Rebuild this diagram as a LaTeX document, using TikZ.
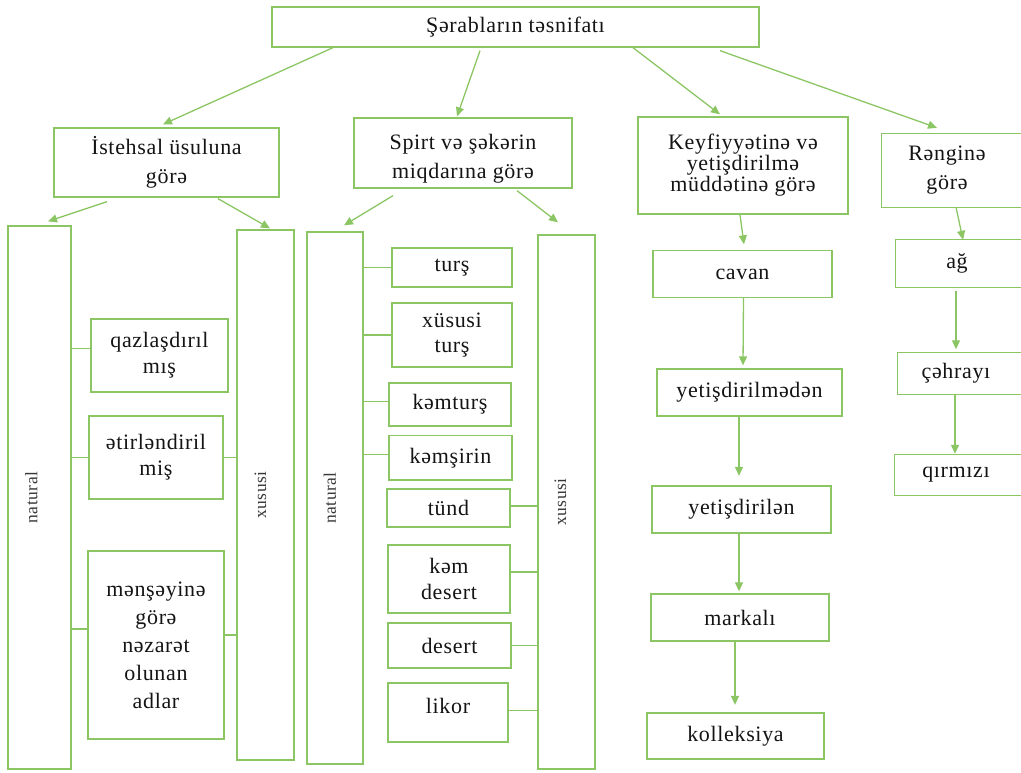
\documentclass[tikz,border=0pt]{standalone}
\usepackage{fontspec}
\usepackage{graphicx}
\setmainfont{Liberation Serif}[LetterSpace=3.0]
\usetikzlibrary{arrows.meta}
\definecolor{gline}{RGB}{140,198,100}
\definecolor{txt}{RGB}{20,20,20}
\begin{document}
\begin{tikzpicture}[x=1pt,y=-1pt,
  base/.style={rectangle, inner sep=0pt, align=center, text=txt, font=\fontsize{22}{26}\selectfont},
  box/.style={base, draw=gline, line width=1.3pt},
  plain/.style={base, draw=none},
  big/.style={font=\fontsize{22}{29}\selectfont},
  arr/.style={draw=gline, line width=1.3pt, -{Triangle[length=9pt,width=8pt]}},
  link/.style={draw=gline, line width=1.3pt},
  vtext/.style={rotate=90, inner sep=0pt, text=txt!85, font=\fontsize{17.5}{20}\selectfont}]
\useasboundingbox (0,0) rectangle (1021,772);

% level 0
\node[box, minimum width=487pt, minimum height=40pt] (top) at (515.5,27) {Şərabların təsnifatı};

% level 1
\node[box, big, minimum width=225pt, minimum height=69pt] (ist) at (166.5,162.5) {İstehsal üsuluna\\görə};
\node[box, minimum width=218pt, minimum height=70pt] (spirt) at (463,153) {};
\node[plain, big] (spirtt) at ([yshift=-6pt]spirt.center) {Spirt və şəkərin\\miqdarına görə};
\node[box, font=\fontsize{22}{20}\selectfont, minimum width=210pt, minimum height=97pt] (keyf) at (743,165.5) {Keyfiyyətinə və\\yetişdirilmə\\müddətinə görə};
\node[plain, big, minimum width=130pt, minimum height=73pt] (reng) at (947,170.5) {Rənginə\\görə};
\draw[link] (reng.north west) rectangle ([xshift=60pt]reng.south east);

% left group
\node[box, minimum width=63pt, minimum height=543pt] (nat1) at (39.5,497.5) {};
\node[vtext] (nat1t) at ([xshift=-8pt]nat1.center) {natural};
\node[box, minimum width=57pt, minimum height=530pt] (xus1) at (265.5,495) {};
\node[vtext] (xus1t) at ([xshift=-5pt]xus1.center) {xususi};
\node[box, minimum width=137pt, minimum height=73pt] (qaz) at (159.5,355.5) {qazlaşdırıl\\mış};
\node[box, minimum width=134pt, minimum height=83pt] (etir) at (156,457.5) {ətirləndiril\\miş};
\node[box, font=\fontsize{22}{28}\selectfont, minimum width=136pt, minimum height=188pt] (mens) at (156,645) {mənşəyinə\\görə\\nəzarət\\olunan\\adlar};

% middle group
\node[box, minimum width=56pt, minimum height=532pt] (nat2) at (335,498) {};
\node[vtext] (nat2t) at ([xshift=-5pt]nat2.center) {natural};
\node[box, minimum width=57pt, minimum height=534pt] (xus2) at (566.5,502) {};
\node[vtext] (xus2t) at ([xshift=-6pt]xus2.center) {xususi};
\node[box, minimum width=120pt, minimum height=39pt] (tursh) at (452,267.5) {turş};
\node[box, font=\fontsize{22}{25}\selectfont, minimum width=120pt, minimum height=64pt] (xtursh) at (452,335) {xüsusi\\turş};
\node[box, minimum width=122pt, minimum height=43pt] (kemt) at (450,404.5) {kəmturş};
\node[box, minimum width=123pt, minimum height=44.5pt] (kems) at (450.5,457.75) {kəmşirin};
\node[box, minimum width=123pt, minimum height=38pt] (tund) at (448.5,508) {tünd};
\node[box, font=\fontsize{22}{25.5}\selectfont, minimum width=122pt, minimum height=68pt] (kemd) at (449,579) {kəm\\desert};
\node[box, minimum width=123pt, minimum height=45pt] (des) at (449.5,645.5) {desert};
\node[box, text depth=14pt, minimum width=120pt, minimum height=59pt] (likor) at (448,712.5) {likor};

% right chain
\node[box, minimum width=179pt, minimum height=47pt] (cavan) at (742.5,274) {cavan};
\node[box, minimum width=185pt, minimum height=47pt] (yetm) at (749.5,392.5) {yetişdirilmədən};
\node[box, minimum width=179pt, minimum height=47pt] (yetl) at (741.5,509.5) {yetişdirilən};
\node[box, minimum width=178pt, minimum height=47pt] (mark) at (740,617.5) {markalı};
\node[box, minimum width=177pt, minimum height=46pt] (koll) at (735.5,736) {kolleksiya};

% colour chain
\node[plain, minimum width=122pt, minimum height=47pt] (ag) at (957,263.5) {ağ};
\draw[link] (ag.north west) rectangle ([xshift=60pt]ag.south east);
\node[plain, minimum width=116pt, minimum height=41pt] (cehr) at (956,373.5) {çəhrayı};
\draw[link] (cehr.north west) rectangle ([xshift=60pt]cehr.south east);
\node[plain, minimum width=122pt, minimum height=40pt] (qirm) at (956,475) {qırmızı};
\draw[link] (qirm.north west) rectangle ([xshift=60pt]qirm.south east);

% arrows from the title
\draw[arr] ([xshift=-182.5pt]top.south) -- ([xshift=-3.5pt,yshift=3pt]ist.north);
\draw[arr] ([xshift=-35.5pt,yshift=-3pt]top.south) -- ([xshift=-6pt,yshift=1pt]spirt.north);
\draw[arr] ([xshift=117.5pt]top.south) -- ([xshift=-23pt,yshift=2pt]keyf.north);
\draw[arr] ([xshift=204.5pt,yshift=-3pt]top.south) -- ([xshift=-10pt,yshift=6pt]reng.north);

% arrows level 1 -> level 2
\draw[arr] ([xshift=-59.5pt,yshift=-4pt]ist.south) -- ([xshift=8.5pt,yshift=4pt]nat1.north);
\draw[arr] ([xshift=51.5pt,yshift=-1pt]ist.south) -- ([xshift=4.5pt,yshift=1pt]xus1.north);
\draw[arr] ([xshift=-70pt,yshift=-7pt]spirt.south) -- ([xshift=9pt,yshift=6pt]nat2.north);
\draw[arr] ([xshift=54pt,yshift=-2pt]spirt.south) -- ([xshift=-8.5pt,yshift=12pt]xus2.north);
\draw[arr] ([xshift=-3pt]keyf.south) -- ([xshift=1.5pt,yshift=5.5pt]cavan.north);
\draw[arr] ([xshift=9pt]reng.south) -- ([xshift=6pt]ag.north);

% right chain arrows
\draw[arr] ([xshift=1pt]cavan.south) -- ([xshift=-6.5pt,yshift=3pt]yetm.north);
\draw[arr] ([xshift=-10.5pt]yetm.south) -- ([xshift=-2.5pt,yshift=9.5pt]yetl.north);
\draw[arr] ([xshift=-2.5pt]yetl.south) -- ([xshift=-1pt,yshift=2pt]mark.north);
\draw[arr] ([xshift=-5pt]mark.south) -- ([xshift=-0.5pt,yshift=7.5pt]koll.north);
\draw[arr] ([xshift=-1pt,yshift=-4pt]ag.south) -- ([yshift=3.5pt]cehr.north);
\draw[arr] ([xshift=-1pt]cehr.south) -- ([xshift=-1pt,yshift=1pt]qirm.north);

% left group links
\coordinate (qazL) at ([yshift=7pt]qaz.west);
\coordinate (mensL) at ([yshift=16pt]mens.west);
\coordinate (mensR) at ([yshift=10pt]mens.east);
\draw[link] (nat1.east |- qazL) -- (qazL);
\draw[link] (nat1.east |- etir.west) -- (etir.west);
\draw[link] (nat1.east |- mensL) -- (mensL);
\draw[link] (etir.east) -- (xus1.west |- etir.east);
\draw[link] (mensR) -- (xus1.west |- mensR);

% middle group links
\coordinate (kemtL) at ([yshift=3pt]kemt.west);
\coordinate (kemsL) at ([yshift=3.5pt]kems.west);
\coordinate (tundR) at ([yshift=2pt]tund.east);
\coordinate (kemdR) at ([yshift=7pt]kemd.east);
\coordinate (likorR) at ([yshift=2pt]likor.east);
\draw[link] (nat2.east |- tursh.west) -- (tursh.west);
\draw[link] (nat2.east |- xtursh.west) -- (xtursh.west);
\draw[link] (nat2.east |- kemtL) -- (kemtL);
\draw[link] (nat2.east |- kemsL) -- (kemsL);
\draw[link] (tundR) -- (xus2.west |- tundR);
\draw[link] (kemdR) -- (xus2.west |- kemdR);
\draw[link] (des.east) -- (xus2.west |- des.east);
\draw[link] (likorR) -- (xus2.west |- likorR);
\end{tikzpicture}
\end{document}
